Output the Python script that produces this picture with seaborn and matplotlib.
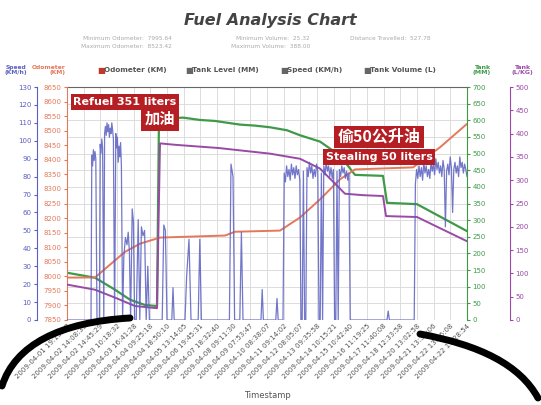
import numpy as np
import pandas as pd
import matplotlib
matplotlib.use("Agg")
import matplotlib.pyplot as plt
import seaborn as sns
from matplotlib.path import Path
from matplotlib.patches import PathPatch

# ---- data (t = position along the time axis, 0..100) ----
timestamps = [
    "2009-04-01 19:15:13", "2009-04-02 14:08:35", "2009-04-02 14:45:29",
    "2009-04-03 10:18:32", "2009-04-03 16:41:28", "2009-04-04 09:25:18",
    "2009-04-04 18:50:10", "2009-04-05 13:14:05", "2009-04-06 19:45:31",
    "2009-04-07 18:32:40", "2009-04-08 09:11:30", "2009-04-09 07:53:47",
    "2009-04-10 08:38:07", "2009-04-11 09:14:02", "2009-04-12 08:05:07",
    "2009-04-13 09:35:58", "2009-04-14 10:15:21", "2009-04-15 10:42:40",
    "2009-04-16 11:19:25", "2009-04-17 11:40:08", "2009-04-18 12:33:58",
    "2009-04-20 13:02:58", "2009-04-21 13:30:06", "2009-04-22 13:36:08",
    "2009-04-22 15:28:54",
]

odo_t = [0, 7, 10.75, 14.5, 18.25, 23.25, 39.5, 42, 53.25, 58.25, 63.25, 68.25, 72, 86.5, 93.25, 100]
odo_km = [7995.64, 7996, 8040, 8084, 8112, 8133, 8140, 8153, 8157, 8202, 8264, 8333, 8367, 8374, 8443, 8523.42]

level_t = [0, 7, 12, 15.75, 19.5, 22.5, 23, 26, 29, 33.25, 37, 43.25, 47, 50.75, 55, 58.25,
           63.25, 68.25, 72, 79, 80, 87.5, 100]
level_mm = [142, 127, 91, 61, 45, 42, 612, 606, 608, 601, 598, 587, 584, 579, 570, 555,
            536, 494, 436, 433, 352, 348, 267]

vol_t = [0, 7, 12, 17, 22.5, 23.25, 27, 33.25, 38, 43.25, 50.75, 58.25, 63.25, 69.5,
         73.75, 79, 79.75, 87.5, 100]
vol_l = [76, 65, 48, 30, 25.32, 379, 376, 372, 369, 364, 357, 346, 325, 271,
         268, 266, 223, 221, 169]

speed_t = [
    0, 6.0, 6.2, 6.4, 6.6, 6.8, 7.0, 7.2, 7.5, 8.1, 8.3, 8.5, 8.7, 8.9, 9.2, 9.4, 9.6,
    9.8, 10.0, 10.2, 10.4, 10.6, 10.8, 11.0, 11.2, 11.4, 11.6, 11.9, 12.2, 12.4, 12.6,
    12.8, 13.0, 13.2, 13.4, 13.6, 13.9, 14.2, 14.6, 15.0, 15.3, 15.6, 15.9, 16.3, 16.6,
    16.9, 17.3, 17.8, 18.2, 18.6, 19.0, 19.4, 19.8, 20.2, 20.6, 21.0, 23.8, 24.2, 24.6,
    25.0, 26.2, 26.5, 26.8, 29.5, 29.9, 30.5, 31.0, 31.4, 32.8, 33.2, 33.6, 40.6, 41.0,
    41.5, 41.9, 43.2, 43.6, 44.0, 48.5, 48.8, 49.1, 52.2, 52.5, 52.8,
    54.0, 54.3, 54.6, 54.9, 55.2, 55.5, 55.8, 56.1, 56.4, 56.7, 57.0, 57.3, 57.6, 57.9,
    58.2, 58.5, 58.8, 59.1, 59.4, 59.7, 60.0, 60.3, 60.6, 60.9, 61.2, 61.5, 61.8, 62.1,
    62.4, 62.7, 63.0, 63.3, 63.6, 63.9, 64.2, 64.5, 64.8, 65.1, 65.4, 65.7, 66.0, 66.3,
    66.6, 66.9, 67.2, 67.5, 67.8, 68.1, 68.4, 68.7, 69.0, 69.3, 69.6, 69.9, 70.2, 70.5,
    70.8, 71.1, 80.0, 80.3, 80.6,
    86.8, 87.1, 87.4, 87.7, 88.0, 88.3, 88.6, 88.9, 89.2, 89.5, 89.8, 90.1, 90.4, 90.7,
    91.0, 91.3, 91.6, 91.9, 92.2, 92.5, 92.8, 93.1, 93.4, 93.7, 94.0, 94.3, 94.6, 94.9,
    95.2, 95.5, 95.8, 96.1, 96.4, 96.7, 97.0, 97.3, 97.6, 97.9, 98.2, 98.5, 98.8, 99.1,
    99.4, 99.7, 100,
]
speed_kmh = [
    0, 0, 92, 86, 95, 89, 94, 90, 0, 0, 98, 93, 101, 96, 0, 104, 108, 103, 110, 105,
    109, 102, 107, 104, 110, 106, 101, 0, 104, 96, 102, 88, 97, 91, 99, 86, 0, 35, 46,
    42, 49, 38, 0, 62, 55, 0, 0, 56, 0, 52, 47, 50, 0, 30, 0, 0, 0, 53, 50, 0, 0, 18, 0,
    0, 24, 45, 0, 0, 0, 45, 0, 0, 87, 80, 0, 0, 49, 0, 0, 17, 0, 0, 12, 0,
    0, 82, 77, 86, 80, 84, 78, 87, 81, 85, 79, 86, 81, 84, 78, 0, 0, 83, 0, 0,
    85, 80, 88, 82, 86, 79, 84, 80, 87, 83, 0, 0, 82, 0, 86, 81, 88, 83, 86, 80,
    85, 79, 84, 0, 0, 83, 0, 84, 80, 86, 82, 85, 79, 83, 78, 82, 0, 0, 0, 5, 0,
    0, 76, 84, 79, 86, 80, 85, 78, 88, 82, 86, 80, 84, 79, 88, 83, 87, 81, 90, 84,
    88, 82, 86, 80, 89, 84, 52, 83, 87, 81, 91, 85, 60, 84, 88, 82, 86, 80, 91, 85,
    88, 82, 87, 84, 80,
]

stats_left = ["Minimum Odometer:  7995.64", "Maximum Odometer:  8523.42"]
stats_mid = ["Minimum Volume:  25.32", "Maximum Volume:  388.00"]
stats_right = "Distance Travelled:  527.78"

legend_items = ["Odometer (KM)", "Tank Level (MM)", "Speed (KM/h)", "Tank Volume (L)"]

# ---- colours ----
c_speed = "#5a5fc0"
c_odo = "#e4785a"
c_level = "#3f9a48"
c_vol = "#9a4aa6"
c_text = "#555555"

sns.set_style("white")
plt.rcParams["font.family"] = ["DejaVu Sans", "Noto Sans CJK SC"]

fig = plt.figure(figsize=(5.41, 4.05), dpi=100)
W, H = 541, 405
PX = 72 / 100  # points per pixel
ax = fig.add_axes([67 / W, 1 - 320 / H, 400 / W, 233 / H])

ax_odo = ax.twinx()
ax_vol = ax.twinx()
ax_spd = ax.twinx()

# host axis: tank level (MM), ticks on the right
level_df = pd.DataFrame({"t": level_t, "v": level_mm})
sns.lineplot(data=level_df, x="t", y="v", ax=ax, color=c_level, lw=1.6, sort=False)
ax.set_ylim(0, 700)
ax.set_yticks(np.arange(0, 701, 50))
ax.set_xlim(0, 100)
xt = np.linspace(0, 100, len(timestamps))
ax.set_xticks(xt)
ax.set_xticklabels(timestamps, rotation=45, ha="right", rotation_mode="anchor",
                   fontsize=5, color=c_text)
ax.grid(True, color="#dcdcdc", lw=0.7)
ax.set_axisbelow(True)
ax.tick_params(axis="x", length=0, pad=2)
ax.set_xlabel("Timestamp", fontsize=6, color=c_text, labelpad=8)
ax.set_ylabel("")
for s in ["left", "bottom"]:
    ax.spines[s].set_visible(False)
ax.spines["top"].set_color("#666666")
ax.spines["right"].set_color(c_level)

# odometer axis (left, inner)
odo_df = pd.DataFrame({"t": odo_t, "v": odo_km})
sns.lineplot(data=odo_df, x="t", y="v", ax=ax_odo, color=c_odo, lw=1.4, sort=False)
ax_odo.set_ylim(7850, 8650)
ax_odo.set_yticks(np.arange(7850, 8651, 50))
ax_odo.yaxis.tick_left()
ax_odo.tick_params(axis="y", labelsize=5, colors=c_odo, length=2, pad=2)
ax_odo.set_ylabel("")
for s in ["top", "right", "bottom"]:
    ax_odo.spines[s].set_visible(False)
ax_odo.spines["left"].set_color(c_odo)

# tank volume axis (right, outer)
vol_df = pd.DataFrame({"t": vol_t, "v": vol_l})
sns.lineplot(data=vol_df, x="t", y="v", ax=ax_vol, color=c_vol, lw=1.4, sort=False)
ax_vol.set_ylim(0, 500)
ax_vol.set_yticks(np.arange(0, 501, 50))
ax_vol.yaxis.tick_right()
ax_vol.spines["right"].set_position(("outward", 43 * PX))
ax_vol.tick_params(axis="y", labelsize=5, colors=c_vol, length=2, pad=2)
ax_vol.set_ylabel("")
for s in ["top", "left", "bottom"]:
    ax_vol.spines[s].set_visible(False)
ax_vol.spines["right"].set_color(c_vol)

# speed axis (left, outer)
spd_df = pd.DataFrame({"t": speed_t, "v": speed_kmh})
sns.lineplot(data=spd_df, x="t", y="v", ax=ax_spd, color=c_speed, lw=0.9, alpha=0.85,
             sort=False)
ax_spd.set_ylim(0, 130)
ax_spd.set_yticks(np.arange(0, 131, 10))
ax_spd.yaxis.tick_left()
ax_spd.spines["left"].set_position(("outward", 30 * PX))
ax_spd.tick_params(axis="y", labelsize=5, colors=c_speed, length=2, pad=2)
ax_spd.set_ylabel("")
for s in ["top", "right", "bottom"]:
    ax_spd.spines[s].set_visible(False)
ax_spd.spines["left"].set_color(c_speed)
ax_spd.set_xlim(0, 100)

# twinx resets the host to left ticks, so put them back on the right
ax.yaxis.tick_right()
ax.tick_params(axis="y", labelsize=5, colors=c_level, length=2, pad=2)

# axis titles
fig.text(16 / W, 1 - 70 / H, "Speed\n(KM/h)", fontsize=4.3, color=c_speed, ha="center",
         va="center", fontweight="bold")
fig.text(65 / W, 1 - 70 / H, "Odometer\n(KM)", fontsize=4.3, color=c_odo, ha="right",
         va="center", fontweight="bold", multialignment="right")
fig.text(482 / W, 1 - 70 / H, "Tank\n(MM)", fontsize=4.5, color=c_level, ha="center",
         va="center", fontweight="bold")
fig.text(522 / W, 1 - 70 / H, "Tank\n(L/KG)", fontsize=4.5, color=c_vol, ha="center",
         va="center", fontweight="bold")

# legend row
leg_x = [97, 185, 280, 363]
leg_c = ["#c0392b", "#666666", "#666666", "#666666"]
for x, lab, c in zip(leg_x, legend_items, leg_c):
    fig.text(x / W, 1 - 70 / H, "\u25a0", fontsize=6, color=c, ha="left", va="center")
    fig.text((x + 7) / W, 1 - 70 / H, lab, fontsize=5.2, color="#555555", ha="left",
             va="center", fontweight="bold")

# title and stats
fig.text(270 / W, 1 - 20 / H, "Fuel Analysis Chart", fontsize=11.5, fontweight="bold",
         style="italic", color="#444444", ha="center", va="center")
for i, (a, b) in enumerate(zip(stats_left, stats_mid)):
    y = 1 - (38 + i * 9) / H
    fig.text(172 / W, y, a, fontsize=4.2, color="#aaaaaa", ha="right", va="center")
    fig.text(310 / W, y, b, fontsize=4.2, color="#aaaaaa", ha="right", va="center")
fig.text(350 / W, 1 - 38 / H, stats_right, fontsize=4.2, color="#aaaaaa", ha="left",
         va="center")

# red callouts
box = dict(boxstyle="square,pad=0.25", fc="#b51f24", ec="none")
fig.text(125 / W, 1 - 102 / H, "Refuel 351 liters", fontsize=8, fontweight="bold",
         color="white", ha="center", va="center", bbox=box)
fig.text(160 / W, 1 - 119 / H, "加油", fontsize=11, fontweight="bold", color="white",
         ha="center", va="center", bbox=box, family=["Noto Sans CJK SC"])
fig.text(379 / W, 1 - 137 / H, "偷50公升油", fontsize=11.5, fontweight="bold",
         color="white", ha="center", va="center", bbox=dict(boxstyle="square,pad=0.2",
         fc="#b51f24", ec="none"), family=["Noto Sans CJK SC"])
fig.text(379 / W, 1 - 157 / H, "Stealing 50 liters", fontsize=8, fontweight="bold",
         color="white", ha="center", va="center", bbox=box)

# marker strokes drawn over the photo's corners
def stroke(pts, lw):
    verts = [(x / W, 1 - y / H) for x, y in pts]
    codes = [Path.MOVETO] + [Path.CURVE4] * (len(verts) - 1)
    fig.patches.append(PathPatch(Path(verts, codes), transform=fig.transFigure,
                                 fc="none", ec="black", lw=lw, capstyle="round"))

stroke([(2, 386), (15, 345), (60, 322), (130, 318)], 5)
stroke([(420, 334), (480, 345), (520, 365), (538, 398)], 5)

fig.savefig("out.png", dpi=100)
